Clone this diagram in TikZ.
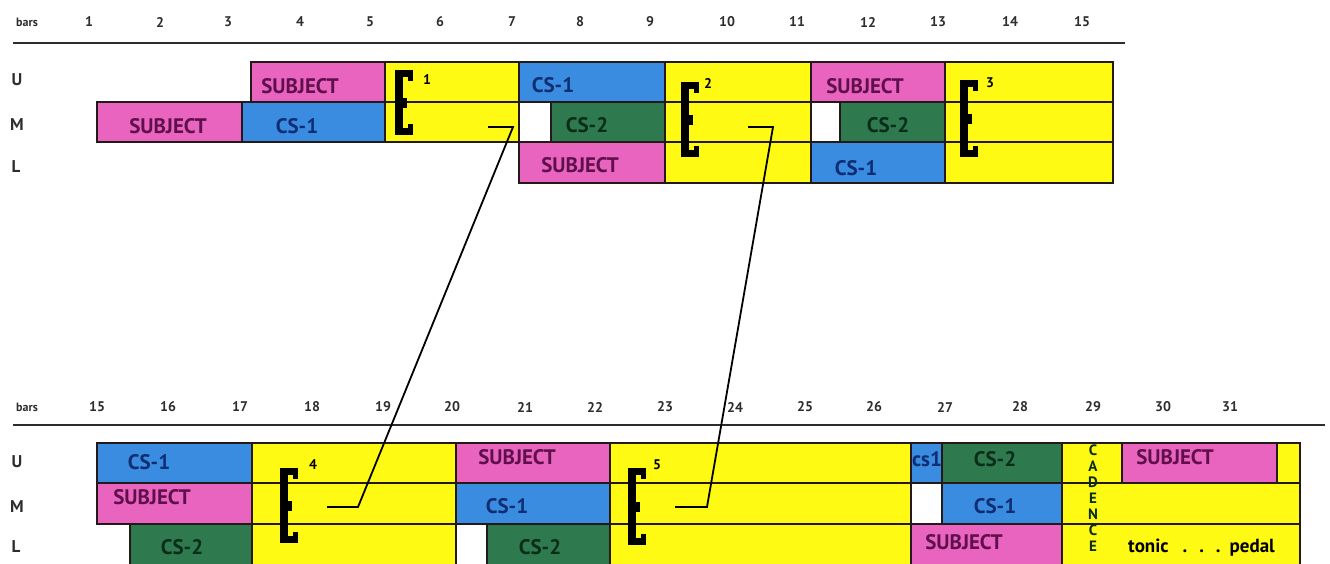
\documentclass[tikz,border=0pt]{standalone}
\usepackage{fontspec}
\setmainfont{PT Sans}
\usetikzlibrary{positioning, calc}
\definecolor{subjpink}{RGB}{232, 100, 190}
\definecolor{csblue}{RGB}{58, 140, 224}
\definecolor{csgreen}{RGB}{46, 122, 78}
\definecolor{epiyellow}{RGB}{255, 250, 20}
\definecolor{subjtext}{RGB}{95, 15, 75}
\definecolor{cs1text}{RGB}{15, 45, 115}
\definecolor{cs2text}{RGB}{10, 45, 25}
\definecolor{edge}{RGB}{35, 25, 25}
\definecolor{headgray}{RGB}{45, 45, 45}

\tikzset{
  seg/.style={draw=edge, line width=1.8pt},
  lab/.style={font=\bfseries\fontsize{21}{21}\selectfont, anchor=base, inner sep=0pt},
  barnum/.style={font=\bfseries\fontsize{14}{14}\selectfont, text=headgray, inner sep=0pt},
  rowname/.style={font=\bfseries\fontsize{17}{17}\selectfont, text=headgray, inner sep=0pt},
  epinum/.style={font=\bfseries\fontsize{14}{14}\selectfont, inner sep=0pt},
  headline/.style={draw=headgray, line width=2pt},
  link/.style={draw=black, line width=1.8pt},
  pics/ebr/.style={code={
    \fill (0,0) rectangle (8,#1);
    \fill (0,0) rectangle (18,7);
    \fill (13,0) rectangle (18,11);
    \fill (0,{#1-7}) rectangle (18,#1);
    \fill (13,{#1-11}) rectangle (18,#1);
    \fill (8,{#1/2-5}) rectangle (12,{#1/2+5});
  }}
}

\begin{document}
\begin{tikzpicture}[x=1pt, y=-1pt]
  \useasboundingbox[fill=white] (0,0) rectangle (1330,563);

  % bar numbers, top system
  \node[barnum, font=\bfseries\fontsize{12}{12}\selectfont] (barsA) at (27,22) {bars};
  \foreach \x [count=\n] in {89,160,228,300,370,440,512,580,650,727,797,868,938,1010,1082}
    \node[barnum] (topbar\n) at (\x,22) {\n};
  \draw[headline] (13,43) -- (1125,43);

  % bar numbers, bottom system
  \node[barnum, font=\bfseries\fontsize{12}{12}\selectfont] (barsB) at (27,407) {bars};
  \foreach \x [count=\i, evaluate=\i as \n using int(\i+14)] in {97,168,240,312,383,452,525,595,665,735,805,874,945,1020,1093,1163,1230}
    \node[barnum] (botbar\n) at (\x,407) {\n};
  \draw[headline] (13,425) -- (1325,425);

  % voices
  \node[rowname] (vU1) at (17,80) {U};
  \node[rowname] (vM1) at (17,125) {M};
  \node[rowname] (vL1) at (16,167) {L};
  \node[rowname] (vU2) at (17,462) {U};
  \node[rowname] (vM2) at (17,507) {M};
  \node[rowname] (vL2) at (16,547) {L};

  % top system: x1/x2/colour per voice
  \foreach \xa/\xb/\col in {251/385/subjpink, 385/519/epiyellow, 519/665/csblue,
      665/811/epiyellow, 811/945/subjpink, 945/1113/epiyellow}
    \draw[seg, fill=\col] (\xa,62) rectangle (\xb,102);
  \foreach \xa/\xb/\col in {97/242/subjpink, 242/385/csblue, 385/519/epiyellow,
      519/551/white, 551/665/csgreen, 665/811/epiyellow, 811/840/white,
      840/945/csgreen, 945/1113/epiyellow}
    \draw[seg, fill=\col] (\xa,102) rectangle (\xb,142);
  \foreach \xa/\xb/\col in {519/665/subjpink, 665/811/epiyellow, 811/945/csblue,
      945/1113/epiyellow}
    \draw[seg, fill=\col] (\xa,142) rectangle (\xb,183);

  % bottom system
  \foreach \xa/\xb/\col in {97/252/csblue, 252/456/epiyellow, 456/610/subjpink,
      610/911/epiyellow, 911/942/csblue, 942/1062/csgreen, 1062/1122/epiyellow,
      1122/1277/subjpink, 1277/1300/epiyellow}
    \draw[seg, fill=\col] (\xa,443) rectangle (\xb,483);
  \foreach \xa/\xb/\col in {97/252/subjpink, 252/456/epiyellow, 456/610/csblue,
      610/911/epiyellow, 911/942/white, 942/1062/csblue, 1062/1300/epiyellow}
    \draw[seg, fill=\col] (\xa,483) rectangle (\xb,524);
  \foreach \xa/\xb/\col in {130/252/csgreen, 252/456/epiyellow, 456/487/white,
      487/610/csgreen, 610/911/epiyellow, 911/1062/subjpink, 1062/1300/epiyellow}
    \draw[seg, fill=\col] (\xa,524) rectangle (\xb,566);

  % entry labels
  \foreach \x/\y/\txt/\col [count=\k] in {
      300/93/SUBJECT/subjtext, 553/92/CS-1/cs1text, 865/93/SUBJECT/subjtext,
      168/133/SUBJECT/subjtext, 297/133/CS-1/cs1text, 587/132/CS-2/cs2text,
      888/132/CS-2/cs2text, 580/172/SUBJECT/subjtext, 856/175/CS-1/cs1text,
      149/469/CS-1/cs1text, 517/464/SUBJECT/subjtext, 927/466/cs1/cs1text,
      995/466/CS-2/cs2text, 1175/464/SUBJECT/subjtext,
      152/504/SUBJECT/subjtext, 507/513/CS-1/cs1text, 995/513/CS-1/cs1text,
      182/554/CS-2/cs2text, 540/554/CS-2/cs2text, 964/549/SUBJECT/subjtext}
    \node[lab, text=\col] (entry\k) at (\x,\y) {\txt};
  \node[lab, anchor=base west, font=\bfseries\fontsize{19}{19}\selectfont] (pedal) at (1128,552)
    {tonic\hspace{14pt}.\hspace{12pt}.\hspace{12pt}.\hspace{9pt}pedal};
  \foreach \ch [count=\k] in {C,A,D,E,N,C,E}
    \node[epinum, font=\bfseries\fontsize{15}{15}\selectfont, text=cs2text] (cad\k) at (1093,{434+16*\k}) {\ch};

  % episodes
  \pic at (395,70) {ebr=65};
  \pic at (681,82) {ebr=75};
  \pic at (960,80) {ebr=77};
  \pic at (280,468) {ebr=75};
  \pic at (628,468) {ebr=77};
  \node[epinum] (ep1) at (427,80) {1};
  \node[epinum] (ep2) at (708,83) {2};
  \node[epinum] (ep3) at (990,83) {3};
  \node[epinum] (ep4) at (313,465) {4};
  \node[epinum] (ep5) at (657,465) {5};

  % links between related episodes
  \coordinate (e1s) at (488,127);
  \coordinate (e1k) at (513,127);
  \coordinate (e4k) at (358,507);
  \coordinate (e4s) at (327,507);
  \coordinate (e2s) at (748,127);
  \coordinate (e2k) at (773,127);
  \coordinate (e5k) at (707,507);
  \coordinate (e5s) at (675,507);
  \draw[link] (e1s) -- (e1k) -- (e4k) -- (e4s);
  \draw[link] (e2s) -- (e2k) -- (e5k) -- (e5s);
\end{tikzpicture}
\end{document}
